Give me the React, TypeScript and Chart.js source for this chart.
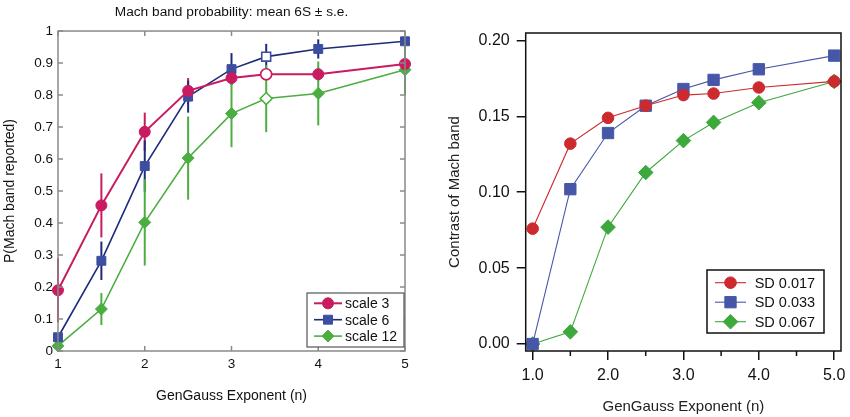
import { useEffect, useRef } from "react";
import { Chart, registerables } from "chart.js";
import type { ChartConfiguration, Plugin } from "chart.js";
import { drawPoint } from "chart.js/helpers";

Chart.register(...registerables);

const FONT = "'Liberation Sans', Arial, Helvetica, sans-serif";

// shared x positions (GenGauss exponent)
const exponents = [1, 1.5, 2, 2.5, 3, 3.4, 4, 5];

// left panel: P(Mach band reported), mean ± s.e.
const probScale3 = [0.19, 0.455, 0.685, 0.813, 0.853, 0.865, 0.865, 0.897];
const probScale6 = [0.043, 0.282, 0.578, 0.795, 0.881, 0.92, 0.944, 0.968];
const probScale12 = [0.016, 0.131, 0.402, 0.603, 0.742, 0.789, 0.805, 0.879];
const errScale3 = [0.1, 0.1, 0.06, 0.04, 0.02, 0.02, 0.02, 0.01];
const errScale6 = [0.01, 0.06, 0.08, 0.05, 0.05, 0.04, 0.03, 0.01];
const errScale12 = [0.01, 0.05, 0.135, 0.13, 0.105, 0.105, 0.1, 0.08];
const openIndex = 5; // hollow markers at n = 3.4
const probXTicks = [1, 2, 3, 4, 5];
const probYTicks = [0, 0.1, 0.2, 0.3, 0.4, 0.5, 0.6, 0.7, 0.8, 0.9, 1];

// right panel: contrast of Mach band
const contrastSd017 = [0.076, 0.132, 0.149, 0.157, 0.164, 0.165, 0.169, 0.173];
const contrastSd033 = [0.0, 0.102, 0.139, 0.157, 0.168, 0.174, 0.181, 0.19];
const contrastSd067 = [0.0, 0.008, 0.077, 0.113, 0.134, 0.146, 0.159, 0.173];
const contrastXTicks = [1, 2, 3, 4, 5];
const contrastXMinor = [1.5, 2.5, 3.5, 4.5];
const contrastYTicks = [0, 0.05, 0.1, 0.15, 0.2];

const toPoints = (ys: number[]) => exponents.map((x, i) => ({ x, y: ys[i] }));

// vertical error bars drawn under the markers
const errorBars: Plugin = {
  id: "errorBars",
  beforeDatasetsDraw(chart) {
    const { ctx } = chart;
    const xs = chart.scales.x;
    const ys = chart.scales.y;
    chart.data.datasets.forEach((ds: any) => {
      if (!ds.errors) return;
      ctx.save();
      ctx.strokeStyle = ds.errorColor || ds.borderColor;
      ctx.lineWidth = 2;
      ds.data.forEach((p: any, i: number) => {
        const e = ds.errors[i];
        const px = xs.getPixelForValue(p.x);
        ctx.beginPath();
        ctx.moveTo(px, ys.getPixelForValue(p.y - e));
        ctx.lineTo(px, ys.getPixelForValue(p.y + e));
        ctx.stroke();
      });
      ctx.restore();
    });
  },
};

// frame around the plot with ticks pointing inward (left panel)
const innerFrame: Plugin = {
  id: "innerFrame",
  afterDraw(chart, _a, opts: any) {
    const { ctx, chartArea: a } = chart;
    const xs = chart.scales.x;
    const ys = chart.scales.y;
    ctx.save();
    ctx.strokeStyle = opts.color;
    ctx.lineWidth = 1.5;
    ctx.strokeRect(a.left, a.top, a.right - a.left, a.bottom - a.top);
    ctx.beginPath();
    xs.ticks.forEach((t) => {
      const px = xs.getPixelForValue(t.value);
      ctx.moveTo(px, a.bottom);
      ctx.lineTo(px, a.bottom - opts.length);
      ctx.moveTo(px, a.top);
      ctx.lineTo(px, a.top + opts.length);
    });
    ys.ticks.forEach((t) => {
      const py = ys.getPixelForValue(t.value);
      ctx.moveTo(a.left, py);
      ctx.lineTo(a.left + opts.length, py);
      ctx.moveTo(a.right, py);
      ctx.lineTo(a.right - opts.length, py);
    });
    ctx.stroke();
    ctx.restore();
  },
};

// plain frame plus short minor ticks below the x axis (right panel)
const outerFrame: Plugin = {
  id: "outerFrame",
  afterDraw(chart, _a, opts: any) {
    const { ctx, chartArea: a } = chart;
    const xs = chart.scales.x;
    ctx.save();
    ctx.strokeStyle = opts.color;
    ctx.lineWidth = 1.5;
    ctx.strokeRect(a.left, a.top, a.right - a.left, a.bottom - a.top);
    ctx.beginPath();
    (opts.minor || []).forEach((v: number) => {
      const px = xs.getPixelForValue(v);
      ctx.moveTo(px, a.bottom);
      ctx.lineTo(px, a.bottom + opts.minorLength);
    });
    ctx.stroke();
    ctx.restore();
  },
};

// legend box placed inside the plot area
const insetLegend: Plugin = {
  id: "insetLegend",
  afterDraw(chart, _a, o: any) {
    const { ctx, chartArea: a } = chart;
    const x0 = a.right - o.right - o.width;
    const y0 = a.bottom - o.bottom - o.height;
    ctx.save();
    ctx.fillStyle = "#fff";
    ctx.fillRect(x0, y0, o.width, o.height);
    ctx.strokeStyle = o.borderColor;
    ctx.lineWidth = o.borderWidth;
    ctx.strokeRect(x0, y0, o.width, o.height);
    ctx.font = o.font;
    ctx.textBaseline = "middle";
    chart.data.datasets.forEach((ds: any, i: number) => {
      const cy = y0 + o.firstRow + i * o.rowHeight;
      const lx = x0 + o.lineStart;
      ctx.strokeStyle = ds.borderColor;
      ctx.lineWidth = ds.borderWidth;
      ctx.beginPath();
      ctx.moveTo(lx, cy);
      ctx.lineTo(lx + o.lineLen, cy);
      ctx.stroke();
      ctx.fillStyle = ds.legendFill;
      ctx.strokeStyle = ds.legendFill;
      ctx.lineWidth = 1;
      drawPoint(ctx, { pointStyle: ds.legendStyle, radius: ds.legendRadius, borderWidth: 1, rotation: 0 }, lx + o.lineLen / 2, cy);
      ctx.fillStyle = o.textColor;
      ctx.fillText(ds.label, lx + o.lineLen + o.textGap, cy + 1);
    });
    ctx.restore();
  },
};

function useChart(build: () => ChartConfiguration) {
  const ref = useRef<HTMLCanvasElement>(null);
  useEffect(() => {
    if (!ref.current) return;
    const chart = new Chart(ref.current, build());
    return () => chart.destroy();
  }, []);
  return ref;
}

function probDataset(label: string, ys: number[], errs: number[], color: string, fill: string, style: string, radius: number, width: number) {
  return {
    label,
    data: toPoints(ys),
    errors: errs,
    borderColor: color,
    borderWidth: width,
    pointStyle: style,
    pointRadius: radius,
    pointBorderWidth: exponents.map((_, i) => (i === openIndex ? 1.6 : 1)),
    pointBorderColor: fill,
    pointBackgroundColor: exponents.map((_, i) => (i === openIndex ? "#fff" : fill)),
    legendFill: fill,
    legendStyle: style,
    legendRadius: radius,
    clip: false,
  } as any;
}

function ProbabilityChart() {
  const ref = useChart(() => ({
    type: "line",
    data: {
      datasets: [
        probDataset("scale 3", probScale3, errScale3, "#c81b60", "#c81b60", "circle", 5.5, 2),
        probDataset("scale 6", probScale6, errScale6, "#1d2b7c", "#3b4ea0", "rect", 6.3, 1.6),
        probDataset("scale 12", probScale12, errScale12, "#4cae40", "#4cae40", "rectRot", 6, 1.6),
      ],
    },
    options: {
      animation: false,
      responsive: false,
      layout: { padding: { right: 20, left: 0, bottom: 0, top: 0 } },
      scales: {
        x: {
          type: "linear",
          min: 1,
          max: 5,
          afterBuildTicks: (s: any) => {
            s.ticks = probXTicks.map((v) => ({ value: v }));
          },
          afterFit: (s: any) => {
            s.height = 66;
            s.paddingLeft = 0;
            s.paddingRight = 0;
          },
          grid: { display: false, drawTicks: false },
          border: { display: false },
          ticks: { color: "#111", padding: 5, font: { family: FONT, size: 13.5 }, callback: (v: any) => String(v) },
          title: { display: true, text: "GenGauss Exponent (n)", color: "#111", font: { family: FONT, size: 14 }, padding: { top: 0, bottom: 12.6 } },
        },
        y: {
          type: "linear",
          min: 0,
          max: 1,
          afterBuildTicks: (s: any) => {
            s.ticks = probYTicks.map((v) => ({ value: v }));
          },
          afterFit: (s: any) => {
            s.width = 58;
            s.paddingTop = 0;
            s.paddingBottom = 0;
          },
          grid: { display: false, drawTicks: false },
          border: { display: false },
          ticks: { color: "#111", padding: 5, font: { family: FONT, size: 13.5 }, callback: (v: any) => String(v) },
          title: { display: true, text: "P(Mach band reported)", color: "#111", font: { family: FONT, size: 14 }, padding: { top: 1.6, bottom: 0 } },
        },
      },
      plugins: {
        legend: { display: false },
        tooltip: { enabled: false },
        title: {
          display: true,
          fullSize: false,
          text: "Mach band probability: mean 6S \u00b1 s.e.",
          color: "#111",
          font: { family: FONT, size: 13.7, weight: "normal" },
          padding: { top: 3.8, bottom: 10.8 },
        },
        innerFrame: { color: "#8a8a8a", length: 5 },
        insetLegend: {
          right: 1,
          bottom: 4,
          width: 97,
          height: 54,
          firstRow: 10.3,
          rowHeight: 16.4,
          lineStart: 7,
          lineLen: 28,
          textGap: 3,
          font: `14px ${FONT}`,
          textColor: "#111",
          borderColor: "#555",
          borderWidth: 1.2,
        },
      } as any,
    },
    plugins: [errorBars, innerFrame, insetLegend],
  }) as any);
  return <canvas ref={ref} width={425} height={417} style={{ width: 425, height: 417, display: "block" }} />;
}

function contrastDataset(label: string, ys: number[], color: string, style: string, radius: number) {
  return {
    label,
    data: toPoints(ys),
    borderColor: color,
    borderWidth: 1.1,
    pointStyle: style,
    pointRadius: radius,
    pointBorderWidth: 1,
    pointBorderColor: color,
    pointBackgroundColor: color,
    legendFill: color,
    legendStyle: style,
    legendRadius: radius,
    clip: false,
  } as any;
}

function ContrastChart() {
  const ref = useChart(() => ({
    type: "line",
    data: {
      datasets: [
        contrastDataset("SD 0.017", contrastSd017, "#cc2a2e", "circle", 5.8),
        contrastDataset("SD 0.033", contrastSd033, "#4757a8", "rect", 8),
        contrastDataset("SD 0.067", contrastSd067, "#3ea83c", "rectRot", 7.3),
      ],
    },
    options: {
      animation: false,
      responsive: false,
      layout: { padding: { top: 33, right: 7, left: 0, bottom: 0 } },
      scales: {
        x: {
          type: "linear",
          min: 0.908,
          max: 5.09,
          afterBuildTicks: (s: any) => {
            s.ticks = contrastXTicks.map((v) => ({ value: v }));
          },
          afterFit: (s: any) => {
            s.height = 66;
            s.paddingLeft = 0;
            s.paddingRight = 0;
          },
          grid: { display: true, drawOnChartArea: false, drawTicks: true, tickLength: 9, color: "#111", lineWidth: 1.5 },
          border: { display: false },
          ticks: { color: "#111", padding: 6, font: { family: FONT, size: 16 }, maxRotation: 0, callback: (v: any) => Number(v).toFixed(1) },
          title: { display: true, text: "GenGauss Exponent (n)", color: "#222", font: { family: FONT, size: 15 }, padding: { top: 0, bottom: 1.5 } },
        },
        y: {
          type: "linear",
          min: -0.0046,
          max: 0.2049,
          afterBuildTicks: (s: any) => {
            s.ticks = contrastYTicks.map((v) => ({ value: v }));
          },
          afterFit: (s: any) => {
            s.width = 100.7;
            s.paddingTop = 0;
            s.paddingBottom = 0;
          },
          grid: { display: true, drawOnChartArea: false, drawTicks: true, tickLength: 9, color: "#111", lineWidth: 1.5 },
          border: { display: false },
          ticks: { color: "#111", padding: 7, font: { family: FONT, size: 16 }, callback: (v: any) => Number(v).toFixed(2) },
          title: { display: true, text: "Contrast of Mach band", color: "#222", font: { family: FONT, size: 15 }, padding: { top: 21, bottom: 0 } },
        },
      },
      plugins: {
        legend: { display: false },
        tooltip: { enabled: false },
        outerFrame: { color: "#111", minor: contrastXMinor, minorLength: 5 },
        insetLegend: {
          right: 17,
          bottom: 18,
          width: 117,
          height: 63,
          firstRow: 12.7,
          rowHeight: 19.5,
          lineStart: 8,
          lineLen: 31,
          textGap: 8.7,
          font: `14.5px ${FONT}`,
          textColor: "#111",
          borderColor: "#111",
          borderWidth: 1.5,
        },
      } as any,
    },
    plugins: [outerFrame, insetLegend],
  }) as any);
  return <canvas ref={ref} width={425} height={417} style={{ width: 425, height: 417, display: "block" }} />;
}

export default function App() {
  return (
    <div style={{ position: "absolute", left: 0, top: 0, width: 850, height: 417, display: "flex", background: "#fff" }}>
      <ProbabilityChart />
      <ContrastChart />
    </div>
  );
}
